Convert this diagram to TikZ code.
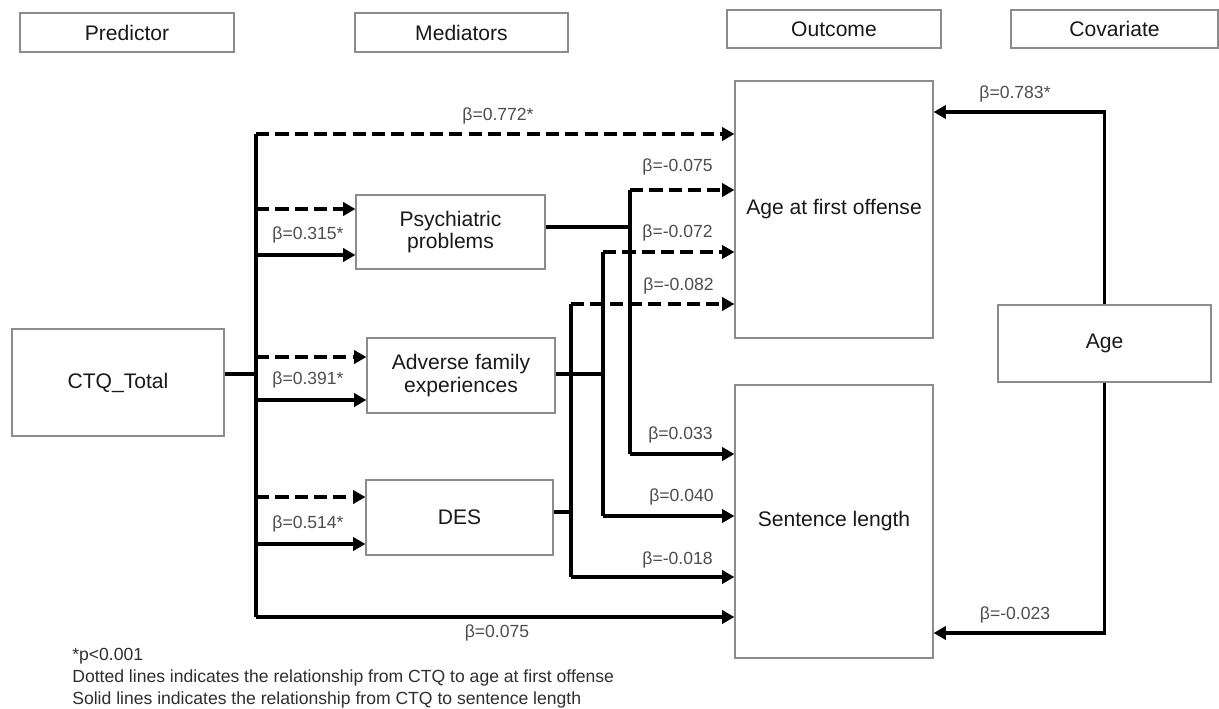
\documentclass[tikz,border=0pt]{standalone}
\usepackage{fontspec}
\setmainfont{Liberation Sans}
\usetikzlibrary{arrows.meta}
\definecolor{boxgray}{HTML}{8C8C8C}
\definecolor{lblgray}{HTML}{4D4D4D}
\definecolor{notegray}{HTML}{2E2E2E}

\begin{document}
\begin{tikzpicture}[x=0.02cm,y=-0.02cm,
    box/.style={draw=boxgray,line width=0.7pt,inner sep=0pt,align=center,
      text=black!90,font=\fontsize{12}{13}\selectfont},
    lbl/.style={text=lblgray,inner sep=0pt,font=\fontsize{10}{12}\selectfont},
    lnk/.style={line width=2.1pt},
    sol/.style={lnk,-{Triangle[length=7pt,width=7.5pt]}},
    dsh/.style={sol,dash pattern=on 7.5pt off 3.5pt}]
  \useasboundingbox (0,0) rectangle (1219,709);

  % header row
  \node[box,minimum width=4.28cm,minimum height=0.78cm] (pred) at (127,32.5) {Predictor};
  \node[box,minimum width=4.26cm,minimum height=0.78cm] (medi) at (461.5,32.5) {Mediators};
  \node[box,minimum width=4.28cm,minimum height=0.76cm] (outc) at (834,29) {Outcome};
  \node[box,minimum width=4.14cm,minimum height=0.76cm] (covr) at (1114.5,29) {Covariate};

  % variables
  \node[box,minimum width=4.24cm,minimum height=2.14cm] (ctq) at (118,382.5) {CTQ\_Total};
  \node[box,minimum width=3.78cm,minimum height=1.48cm] (psych) at (450.5,232) {Psychiatric\\problems};
  \node[box,minimum width=3.76cm,minimum height=1.50cm] (adv) at (461,375.5) {Adverse family\\experiences};
  \node[box,minimum width=3.74cm,minimum height=1.50cm] (des) at (459.5,517.5) {DES};
  \node[box,minimum width=3.96cm,minimum height=5.14cm] (age1) at (834,209.5) {Age at first offense};
  \node[box,minimum width=3.96cm,minimum height=5.46cm] (sent) at (834,521.5) {Sentence length};
  \node[box,minimum width=4.26cm,minimum height=1.54cm] (age) at (1104.5,343.5) {Age};

  % predictor trunk
  \coordinate (tT) at (256,134);
  \coordinate (tB) at (256,617);
  \coordinate (ctqout) at (ctq.east |- 0,374);
  \draw[lnk] (ctqout) -- (ctqout -| tT);
  \draw[lnk] (tT) -- (tB);
  \draw[dsh] (tT) -- (tT -| age1.west);
  \draw[sol] (tB) -- (tB -| sent.west);
  \draw[dsh] (tT |- 0,209) -- (psych.west |- 0,209);
  \draw[sol] (tT |- 0,255) -- (psych.west |- 0,255);
  \draw[dsh] (tT |- 0,357) -- (adv.west |- 0,357);
  \draw[sol] (tT |- 0,400) -- (adv.west |- 0,400);
  \draw[dsh] (tT |- 0,497) -- (des.west |- 0,497);
  \draw[sol] (tT |- 0,544) -- (des.west |- 0,544);

  % mediators to outcomes
  \coordinate (pT) at (630,190);
  \coordinate (pB) at (630,454);
  \coordinate (aT) at (603,252);
  \coordinate (aB) at (603,516);
  \coordinate (dT) at (571,304);
  \coordinate (dB) at (571,577);
  \draw[lnk] (psych.east |- 0,227) -- (pT |- 0,227);
  \draw[lnk] (adv.east |- 0,374) -- (aT |- 0,374);
  \draw[lnk] (des.east |- 0,512) -- (dT |- 0,512);
  \draw[lnk] (pT) -- (pB);
  \draw[lnk] (aT) -- (aB);
  \draw[lnk] (dT) -- (dB);
  \draw[dsh] (pT) -- (pT -| age1.west);
  \draw[dsh] (aT) -- (aT -| age1.west);
  \draw[dsh] (dT) -- (dT -| age1.west);
  \draw[sol] (pB) -- (pB -| sent.west);
  \draw[sol] (aB) -- (aB -| sent.west);
  \draw[sol] (dB) -- (dB -| sent.west);

  % covariate
  \draw[sol] (age.north) |- (age1.east |- 0,112);
  \draw[sol] (age.south) |- (sent.east |- 0,633);

  % coefficients
  \node[lbl] (b772) at (498,116) {β=0.772*};
  \node[lbl] (b315) at (308,235) {β=0.315*};
  \node[lbl] (b391) at (308,380) {β=0.391*};
  \node[lbl] (b514) at (308,524) {β=0.514*};
  \node[lbl] (b075) at (497,633) {β=0.075};
  \node[lbl,anchor=east] (bp1) at (713,167) {β=-0.075};
  \node[lbl,anchor=east] (ba1) at (713,233) {β=-0.072};
  \node[lbl,anchor=east] (bd1) at (714,286) {β=-0.082};
  \node[lbl,anchor=east] (bp2) at (713,435) {β=0.033};
  \node[lbl,anchor=east] (ba2) at (714,497) {β=0.040};
  \node[lbl,anchor=east] (bd2) at (713,560) {β=-0.018};
  \node[lbl] (b783) at (1015,94) {β=0.783*};
  \node[lbl] (b023) at (1015,615) {β=-0.023};

  % footnote
  \node[anchor=north west,align=left,inner sep=0pt,text=notegray,
    font=\fontsize{10}{12.5}\selectfont] (note) at (72,648)
    {*p<0.001\\Dotted lines indicates the relationship from CTQ to age at first offense\\
     Solid lines indicates the relationship from CTQ to sentence length};
\end{tikzpicture}
\end{document}
